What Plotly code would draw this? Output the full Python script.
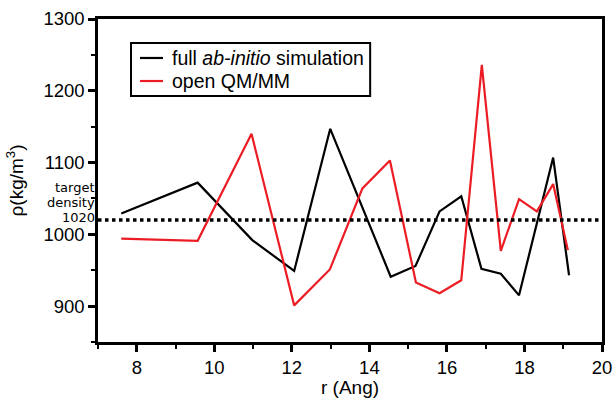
import plotly.graph_objects as go

# Density profile rho(r) for both simulation setups
r_full = [7.6, 9.57, 10.98, 12.06, 12.99, 14.55, 15.19, 15.81, 16.37, 16.89, 17.39, 17.86, 18.74, 19.15]
rho_full = [1029, 1072, 992, 949, 1147, 941, 956, 1032, 1053, 952, 945, 915, 1107, 943]

r_qmmm = [7.6, 9.57, 10.96, 12.06, 12.98, 13.82, 14.53, 15.2, 15.81, 16.37, 16.9, 17.39, 17.86, 18.32, 18.74, 19.12]
rho_qmmm = [994, 991, 1140, 901, 951, 1064, 1103, 933, 918, 936, 1236, 977, 1049, 1032, 1070, 978]

series_names = ["full <i>ab-initio</i> simulation", "open QM/MM"]
series_colors = ["black", "#ec1c24"]

target_density = 1020
x_range = [7, 20]
y_range = [850, 1300]
x_ticks = [8, 10, 12, 14, 16, 18, 20]
y_ticks = [900, 1000, 1100, 1200, 1300]

FONT = "Liberation Sans, Arial, Helvetica, sans-serif"
NOTE_FONT = "DejaVu Sans, Verdana, sans-serif"

fig = go.Figure()
for xs, ys, name, color in zip([r_full, r_qmmm], [rho_full, rho_qmmm], series_names, series_colors):
    fig.add_trace(go.Scatter(
        x=xs, y=ys, mode="lines", name=name,
        line=dict(color=color, width=2.2),
        showlegend=False,
    ))

# Target density reference line with its label stacked to the left of the axis
fig.add_shape(
    type="line", xref="x", yref="y",
    x0=x_range[0], x1=x_range[1], y0=target_density, y1=target_density,
    line=dict(color="black", width=3.5, dash="3.5px,3.5px"),
)
for text, shift in [(str(target_density), 2), ("density", 17), ("target", 32)]:
    fig.add_annotation(
        xref="paper", yref="y", x=0, y=target_density,
        xanchor="right", yanchor="middle", xshift=-2, yshift=shift,
        text=text, showarrow=False, borderpad=0,
        font=dict(family=NOTE_FONT, size=13, color="black"),
    )

# Boxed key in the upper left of the plot area
key_x0, key_x1, key_y0, key_y1 = 0.0655, 0.54, 0.7616, 0.9257
fig.add_shape(type="rect", xref="paper", yref="paper",
              x0=key_x0, x1=key_x1, y0=key_y0, y1=key_y1,
              line=dict(color="black", width=2), fillcolor="white", layer="above")
for row_y, name, color in zip([0.8793, 0.808], series_names, series_colors):
    fig.add_shape(type="line", xref="paper", yref="paper",
                  x0=0.0833, x1=0.129, y0=row_y, y1=row_y,
                  line=dict(color=color, width=2.2), layer="above")
    fig.add_annotation(xref="paper", yref="paper", x=0.1429, y=row_y,
                       xanchor="left", yanchor="middle", text=name, showarrow=False,
                       font=dict(family=FONT, size=19.5, color="black"))

axis_common = dict(
    showline=True, linecolor="black", linewidth=2.5, mirror=True,
    showgrid=False, zeroline=False, automargin=False,
    ticks="outside", ticklen=7, tickwidth=2.5, tickcolor="black",
    tickfont=dict(family=FONT, size=18.5, color="black"),
    minor=dict(ticks="outside", ticklen=4, tickwidth=2, tickcolor="black", dtick=1),
)

fig.update_xaxes(
    range=x_range, tickvals=x_ticks,
    title=dict(text="r (Ang)", font=dict(family=FONT, size=19, color="black")),
    **axis_common,
)
axis_y = dict(axis_common)
axis_y["minor"] = dict(ticks="outside", ticklen=4, tickwidth=2, tickcolor="black", dtick=50)
fig.update_yaxes(
    range=y_range, tickvals=y_ticks,
    title=dict(text="ρ(kg/m<sup>3</sup>)", font=dict(family=FONT, size=19, color="black")),
    **axis_y,
)

fig.update_layout(
    width=614, height=398,
    margin=dict(l=98, r=12, t=19, b=56),
    paper_bgcolor="white", plot_bgcolor="white",
    showlegend=False,
)

fig.write_html("out.html")
